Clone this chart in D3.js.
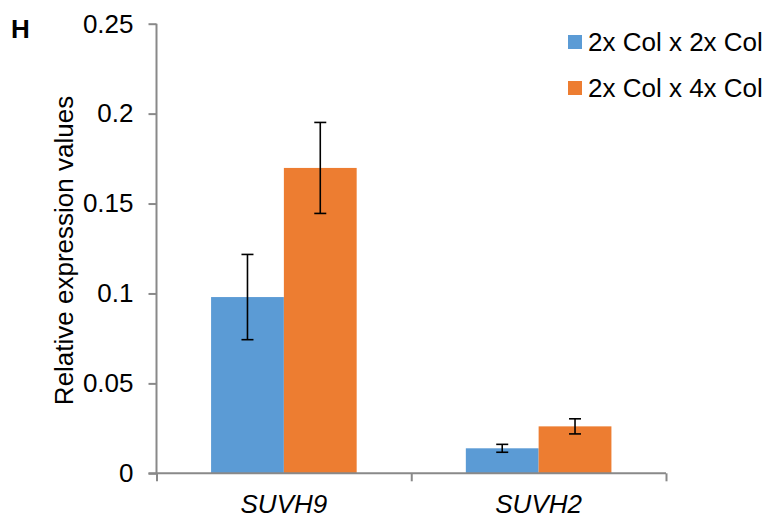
<!DOCTYPE html>
<html lang="en">
<head>
  <meta charset="UTF-8">
  <title>Relative expression SUVH9 / SUVH2</title>
  <script src="https://d3js.org/d3.v7.min.js"></script>
  <style>
    body { margin: 0; background: #fff; }
    svg { display: block; font-family: "Liberation Sans", Arial, sans-serif; }
  </style>
</head>
<body>
  <div id="chart"></div>
  <script>
    // data
    const genes = ['SUVH9', 'SUVH2'];
    const seriesNames = ['2x Col x 2x Col', '2x Col x 4x Col'];
    const colors = ['#5b9bd5', '#ed7d31'];
    const colxcol2 = [0.098, 0.0139];
    const colxcol4 = [0.1698, 0.0261];
    const err2 = [0.0237, 0.0022];
    const err4 = [0.0253, 0.0042];
    const yTicks = [0, 0.05, 0.1, 0.15, 0.2, 0.25];
    const yTickLabels = ['0', '0.05', '0.1', '0.15', '0.2', '0.25'];

    const W = 772, H = 522;
    const mLeft = 156.5, mRight = 666, mTop = 23.7, mBottom = 473.3;
    const axisCol = '#898989';

    const svg = d3.select('#chart').append('svg')
      .attr('width', W).attr('height', H);

    const y = d3.scaleLinear().domain([0, 0.25]).range([mBottom, mTop]);
    const x = d3.scaleBand().domain(genes).range([mLeft, mRight]);
    const groupW = x.bandwidth() * 0.5715;
    const xs = d3.scaleBand().domain(seriesNames)
      .range([(x.bandwidth() - groupW) / 2, (x.bandwidth() + groupW) / 2]);

    const rows = [];
    genes.forEach((g, i) => {
      rows.push({ gene: g, s: seriesNames[0], v: colxcol2[i], e: err2[i], c: colors[0] });
      rows.push({ gene: g, s: seriesNames[1], v: colxcol4[i], e: err4[i], c: colors[1] });
    });

    // bars
    svg.append('g').selectAll('rect')
      .data(rows).enter().append('rect')
      .attr('x', d => x(d.gene) + xs(d.s))
      .attr('width', xs.bandwidth())
      .attr('y', d => y(d.v))
      .attr('height', d => y(0) - y(d.v))
      .attr('fill', d => d.c);

    // error bars
    const eb = svg.append('g').attr('stroke', '#000').attr('stroke-width', 1.6);
    rows.forEach(d => {
      const cx = x(d.gene) + xs(d.s) + xs.bandwidth() / 2;
      eb.append('line').attr('x1', cx).attr('x2', cx)
        .attr('y1', y(d.v + d.e)).attr('y2', y(d.v - d.e));
      [d.v + d.e, d.v - d.e].forEach(v => {
        eb.append('line').attr('x1', cx - 6).attr('x2', cx + 6)
          .attr('y1', y(v)).attr('y2', y(v));
      });
    });

    // y axis
    const yAxis = svg.append('g').attr('transform', `translate(${mLeft},0)`)
      .call(d3.axisLeft(y).tickValues(yTicks).tickSize(8).tickSizeOuter(0)
        .tickFormat((d, i) => yTickLabels[i]));
    yAxis.select('.domain').attr('stroke', axisCol).attr('stroke-width', 2)
      .attr('d', `M0,${mTop}V${mBottom}`);
    yAxis.selectAll('.tick line').attr('stroke', axisCol).attr('stroke-width', 2);
    yAxis.selectAll('.tick text').attr('font-size', 26).attr('fill', '#000')
      .attr('x', -23).attr('font-family', '"Liberation Sans", Arial, sans-serif');

    // x axis: boundary ticks
    const xb = d3.scaleLinear().domain([0, genes.length]).range([mLeft, mRight]);
    const xAxis = svg.append('g').attr('transform', `translate(0,${mBottom})`)
      .call(d3.axisBottom(xb).tickValues(d3.range(genes.length + 1)).tickSize(8)
        .tickSizeOuter(0).tickFormat(''));
    xAxis.select('.domain').attr('stroke', axisCol).attr('stroke-width', 2)
      .attr('d', `M${mLeft - 8},0H${mRight}`);
    xAxis.selectAll('.tick line').attr('stroke', axisCol).attr('stroke-width', 2);

    svg.append('g').selectAll('text')
      .data(genes).enter().append('text')
      .attr('x', d => x(d) + x.bandwidth() / 2)
      .attr('y', 513)
      .attr('text-anchor', 'middle')
      .attr('font-size', 26).attr('font-style', 'italic')
      .text(d => d);

    // y title
    svg.append('text')
      .attr('transform', `translate(73,${(mTop + mBottom) / 2 + 2}) rotate(-90)`)
      .attr('text-anchor', 'middle')
      .attr('font-size', 26)
      .text('Relative expression values');

    // panel letter
    svg.append('text').attr('x', 11).attr('y', 38)
      .attr('font-size', 26).attr('font-weight', 'bold').text('H');

    // legend
    const lg = svg.append('g').selectAll('g')
      .data(seriesNames).enter().append('g')
      .attr('transform', (d, i) => `translate(568,${42 + i * 46})`);
    lg.append('rect').attr('x', 0).attr('y', -7).attr('width', 14).attr('height', 14)
      .attr('fill', (d, i) => colors[i]);
    lg.append('text').attr('x', 20).attr('y', 8.5)
      .attr('font-size', 26).text(d => d);
  </script>
</body>
</html>
